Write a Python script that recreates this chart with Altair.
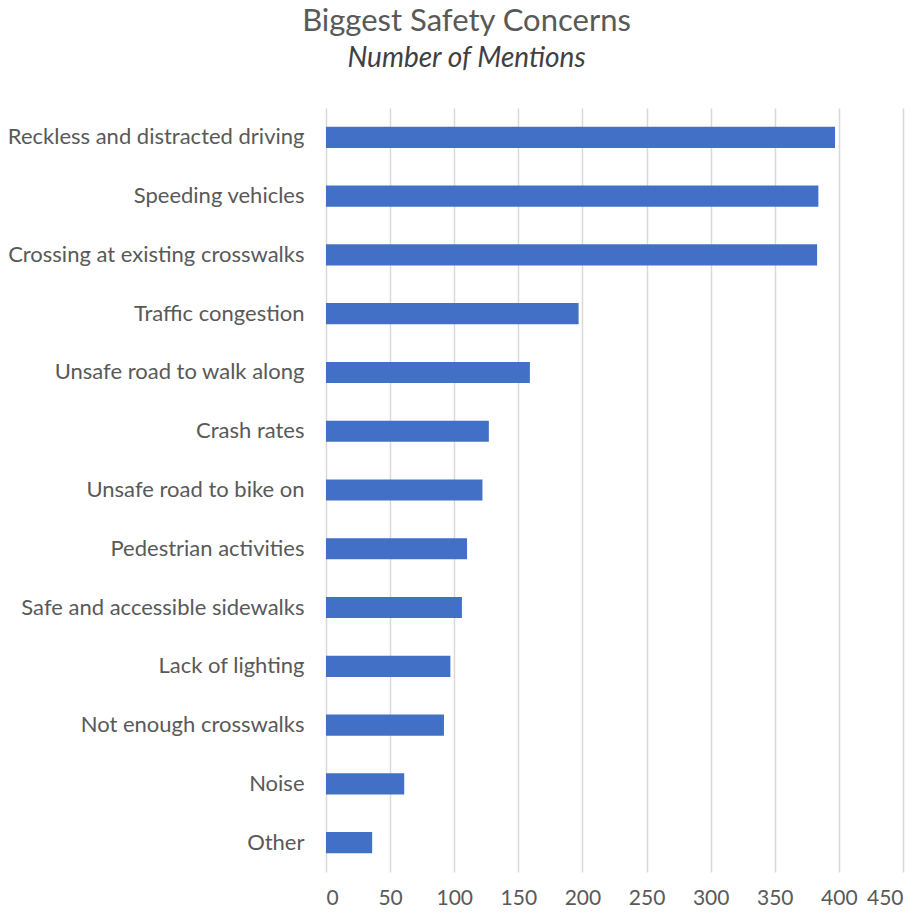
import altair as alt
import pandas as pd

categories = [
    "Reckless and distracted driving",
    "Speeding vehicles",
    "Crossing at existing crosswalks",
    "Traffic congestion",
    "Unsafe road to walk along",
    "Crash rates",
    "Unsafe road to bike on",
    "Pedestrian activities",
    "Safe and accessible sidewalks",
    "Lack of lighting",
    "Not enough crosswalks",
    "Noise",
    "Other",
]
mentions = [397, 384, 383, 197, 159, 127, 122, 110, 106, 97, 92, 61, 36]
x_ticks = [0, 50, 100, 150, 200, 250, 300, 350, 400, 450]

df = pd.DataFrame({"concern": categories, "mentions": mentions})

font = "Lato"
gray = "#595959"

chart = (
    alt.Chart(df)
    .mark_bar(color="#4170C6")
    .encode(
        x=alt.X(
            "mentions:Q",
            scale=alt.Scale(domain=[0, 450], nice=False),
            axis=alt.Axis(
                values=x_ticks,
                title=None,
                domain=False,
                ticks=False,
                grid=True,
                gridColor="#d9d9d9",
                gridWidth=1.5,
                labelColor=gray,
                labelFont=font,
                labelFontSize=21,
                labelPadding=15,
            ),
        ),
        y=alt.Y(
            "concern:N",
            sort=categories,
            scale=alt.Scale(paddingInner=0.64, paddingOuter=0.32),
            axis=alt.Axis(
                title=None,
                domain=False,
                ticks=False,
                grid=False,
                labelColor=gray,
                labelFont=font,
                labelFontSize=22,
                labelPadding=22,
                labelLimit=400,
            ),
        ),
    )
    .properties(
        width=577,
        height=764,
        autosize=alt.AutoSizeParams(type="none"),
        padding={"left": 326, "top": 108, "right": 19, "bottom": 42},
        title=alt.TitleParams(
            text="Biggest Safety Concerns",
            subtitle="Number of Mentions",
            anchor="middle",
            dx=-148,
            offset=34,
            font=font,
            fontSize=31,
            fontWeight="normal",
            color=gray,
            subtitleFont=font,
            subtitleFontSize=28,
            subtitleFontStyle="italic",
            subtitleColor="#404040",
            subtitlePadding=7,
        ),
    )
    .configure_view(stroke=None)
)

chart.save("out.html", embed_options={"renderer": "svg", "actions": False})
